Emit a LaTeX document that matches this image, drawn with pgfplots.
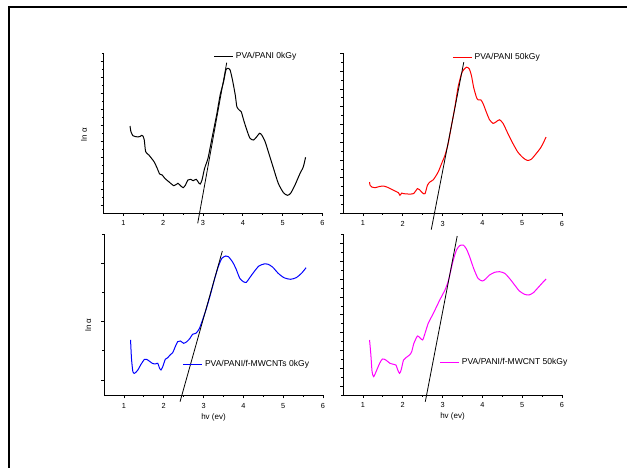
\documentclass[border=0pt]{standalone}
\usepackage{fontspec}
\setmainfont{Liberation Sans}
\usepackage{pgfplots}
\pgfplotsset{compat=1.18}
\definecolor{mag}{RGB}{255,0,255}

\pgfplotsset{
  panel/.style={
    scale only axis, width=164.25pt,
    xmin=0.5, xmax=6,
    axis x line*=bottom, axis y line*=left,
    axis line style={-, line width=0.6pt},
    xtick={1,...,6}, minor x tick num=1,
    yticklabel=\empty,
    tick align=outside,
    major tick length=2.2pt, minor tick length=1.2pt,
    every tick/.style={line width=0.5pt, black},
    ticklabel style={font=\fontsize{5.5}{6}\selectfont},
    /pgf/number format/assume math mode=true,
    label style={font=\fontsize{6}{7}\selectfont},
    clip=false,
    legend style={draw=none, fill=none, anchor=west, font=\fontsize{6.4}{7}\selectfont,
      inner sep=0pt, nodes={inner sep=0.5pt}},
    legend image code/.code={\draw[#1] (0pt,0pt) -- (14pt,0pt);},
    legend cell align=left,
    tangent/.style={black, line width=0.6pt, forget plot},
  },
  curve/.style={line width=0.75pt, smooth, tension=0.4},
}

\begin{document}
\begin{tikzpicture}
\path[use as bounding box] (0pt,0pt) rectangle (470.25pt,-350.25pt);
\draw[line width=1.5pt, line join=miter] (7.1pt,-352pt) -- (7.1pt,-5.6pt) -- (472pt,-5.6pt);

% top left
\begin{axis}[panel, at={(77.6pt,-159.75pt)}, anchor=south west, height=120pt,
  ymin=254, ymax=414, ytick={262,278,...,406}, minor ytick={270,286,...,414},
  ylabel={ln α}, ylabel style={at={(axis description cs:-0.089,0.49)}, anchor=center},
  legend style={at={(axis cs:3.26,410.3)}}]
\addplot[curve, black] coordinates {
(1.167,341) (1.19,335.3) (1.24,331.3) (1.31,330.3) (1.41,330.3) (1.46,331.7) (1.49,331)
(1.525,327) (1.56,315.3) (1.64,312) (1.77,305.3) (1.85,298.7) (1.91,293) (1.975,292)
(2.04,288.7) (2.14,285.3) (2.27,281.3) (2.37,283.7) (2.42,282) (2.5,279.3) (2.56,282)
(2.62,287) (2.69,287.7) (2.75,286.3) (2.83,287.7) (2.89,284.3) (2.93,283) (2.975,287)
(3.04,298.7) (3.125,308.7) (3.225,328.7) (3.35,353.7) (3.43,372) (3.517,385.3) (3.575,397)
(3.625,398.7) (3.68,397) (3.74,387) (3.81,372) (3.85,360.3) (3.91,357) (3.96,355.3)
(4.02,347) (4.1,337) (4.18,328.7) (4.27,327) (4.35,330.3) (4.42,333.7) (4.475,332)
(4.56,325.3) (4.64,315.3) (4.77,298.7) (4.89,283.7) (5.02,274.3) (5.12,271.7) (5.2,273.7)
(5.31,282) (5.43,293) (5.52,300.3) (5.575,309.7)};
\addlegendentry{\hspace{1.5pt}PVA/PANI 0kGy}
\addplot[tangent] coordinates {(2.867,243.7) (3.595,404.3)};
\end{axis}

% top right
\begin{axis}[panel, at={(257.25pt,-159.98pt)}, anchor=south west, height=120pt,
  ymin=254, ymax=414.2, ytick={254,271.8,289.6,307.4,325.2,343,360.8,378.6,396.4,414.2},
  minor y tick num=1,
  legend style={at={(axis cs:3.24,409.7)}}]
\addplot[curve, red] coordinates {
(1.167,285.3) (1.18,282) (1.225,280.3) (1.31,279.7) (1.43,281) (1.52,281.3) (1.64,279.7)
(1.77,277) (1.89,274.7) (1.93,272) (1.975,274.3) (2.02,273.7) (2.14,273.3) (2.27,273.7)
(2.37,278.7) (2.42,277.7) (2.5,274.3) (2.56,273.7) (2.62,282) (2.68,285.3) (2.77,287.7)
(2.89,295.3) (2.975,303.7) (3.06,312) (3.14,323.7) (3.225,342) (3.31,360.3) (3.39,380.3)
(3.475,393.7) (3.53,397.7) (3.6,400.3) (3.67,398.7) (3.725,392) (3.78,380.3) (3.85,370.3)
(3.89,367.7) (3.96,367.7) (4.02,363.7) (4.1,355.3) (4.18,347.7) (4.27,344) (4.35,345.7)
(4.43,347.7) (4.52,344) (4.64,334) (4.77,323.7) (4.89,315.3) (5.02,309.7) (5.125,307)
(5.225,308) (5.35,313.7) (5.475,320.3) (5.6,330.3)};
\addlegendentry{\hspace{1.5pt}PVA/PANI 50kGy}
\addplot[tangent] coordinates {(2.717,237.7) (3.533,405.3)};
\end{axis}

% bottom left
\begin{axis}[panel, at={(78pt,-296.6pt)}, anchor=south west, height=121.1pt,
  ymin=71.5, ymax=233, ytick={87,145.3,203.7}, minor ytick={116.2,174.5,232.8},
  xlabel={hv (ev)}, xlabel style={at={(axis description cs:0.5,-0.136)}, anchor=center},
  ylabel={ln α}, ylabel style={at={(axis description cs:-0.072,0.437)}, anchor=center},
  legend style={at={(axis cs:2.47,102.7)}}]
\addplot[curve, blue] coordinates {
(1.167,127) (1.19,108.7) (1.225,95.3) (1.27,93.7) (1.35,97) (1.43,102.7) (1.52,107.7)
(1.6,107) (1.71,103.7) (1.79,103) (1.85,103.7) (1.89,99.3) (1.93,97) (1.975,100.3)
(2.04,107.7) (2.1,109.3) (2.16,112) (2.225,114.3) (2.29,120.3) (2.35,125.3) (2.42,126)
(2.5,123.7) (2.58,125.3) (2.66,128.7) (2.725,132.7) (2.81,133.7) (2.89,138) (2.96,145.3)
(3.06,157) (3.17,172) (3.27,187) (3.37,200.3) (3.46,208.7) (3.56,211) (3.625,210.3)
(3.725,205.3) (3.81,198.7) (3.91,188.7) (4.0,185.3) (4.075,184.7) (4.16,189.3) (4.27,195.3)
(4.39,201) (4.52,203) (4.625,202.7) (4.74,199.7) (4.875,193.7) (5.02,189.3) (5.18,187.7)
(5.325,189.3) (5.46,193.7) (5.575,199.3)};
\addlegendentry{\hspace{1.5pt}PVA/PANI/f-MWCNTs 0kGy}
\addplot[tangent] coordinates {(2.41,65.3) (3.472,216)};
\end{axis}

% bottom right
\begin{axis}[panel, at={(257.25pt,-296.25pt)}, anchor=south west, height=120.75pt,
  ymin=72, ymax=233, ytick={81,98.8,116.6,134.4,152.2,170,187.8,205.6,223.4},
  minor ytick={72.1,89.9,107.7,125.5,143.3,161.1,178.9,196.7,214.5,232.3},
  xlabel={hv (ev)}, xlabel style={at={(axis description cs:0.5,-0.136)}, anchor=center},
  legend style={at={(axis cs:2.92,104.7)}}]
\addplot[curve, mag] coordinates {
(1.167,127) (1.2,112) (1.23,95.3) (1.27,90.3) (1.33,95.3) (1.42,103.7) (1.49,108)
(1.575,107) (1.68,103.7) (1.77,102.7) (1.83,102) (1.875,97) (1.92,93.7) (1.96,97)
(2.02,107) (2.08,109.3) (2.17,112) (2.225,115.3) (2.28,123.7) (2.37,131) (2.43,129.3)
(2.5,127) (2.56,133.7) (2.64,143.7) (2.725,150.3) (2.83,158.7) (2.93,167) (3.06,177)
(3.14,185.3) (3.2,195.3) (3.27,207) (3.35,217) (3.43,221.3) (3.52,222) (3.6,218)
(3.68,210.3) (3.78,198.7) (3.89,188.7) (4.0,186) (4.08,188) (4.18,192) (4.31,194.7)
(4.43,195.3) (4.56,193.7) (4.68,188.7) (4.81,182) (4.93,176) (5.06,172.7) (5.17,172)
(5.28,174.3) (5.42,180.3) (5.52,184.7) (5.6,188)};
\addlegendentry{\hspace{1.5pt}PVA/PANI/f-MWCNT 50kGy}
\addplot[tangent] coordinates {(2.567,65.3) (3.368,231)};
\end{axis}
\end{tikzpicture}
\end{document}
